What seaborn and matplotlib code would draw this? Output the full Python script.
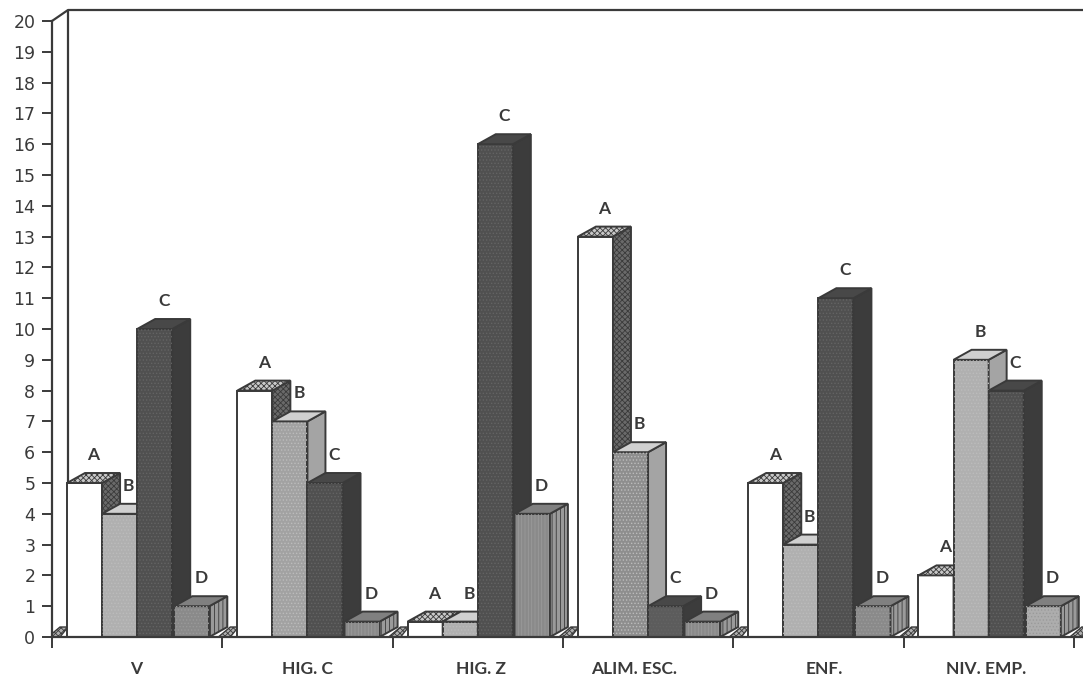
import pandas as pd
import numpy as np
import matplotlib
matplotlib.use('Agg')
import matplotlib.pyplot as plt
from matplotlib.patches import Polygon, Rectangle
import seaborn as sns

# Values
categories = ['V', 'HIG. C', 'HIG. Z', 'ALIM. ESC.', 'ENF.', 'NIV. EMP.']
series_names = ['A', 'B', 'C', 'D']
values_a = [5, 8, 0.5, 13, 5, 2]
values_b = [4, 7, 0.5, 6, 3, 9]
values_c = [10, 5, 16, 1, 11, 8]
values_d = [1, 0.5, 4, 0.5, 1, 1]
y_ticks = list(range(0, 21))

INK = '#3a3a3a'
# front, side, top colour for each series
front_colors = ['#ffffff', '#b0b0b0', '#505050', '#8a8a8a']
side_colors = ['#6a6a6a', '#a4a4a4', '#3c3c3c', '#9a9a9a']
top_colors = ['#c8c8c8', '#d0d0d0', '#484848', '#808080']
side_hatches = ['xxxxxx', None, None, '||||']
top_hatches = ['xxxxxx', None, None, None]
# overlay texture on the front faces: hatch and its colour
front_textures = [None, '.....', '.....', '.....']
texture_colors = [None, '#bcbcbc', '#646464', '#9a9a9a']
# bars printed in another grey than the rest of their series
shade_overrides = {('B', 'ALIM. ESC.'): '#8e8e8e', ('B', 'HIG. C'): '#a2a2a2',
                   ('D', 'NIV. EMP.'): '#adadad', ('C', 'ALIM. ESC.'): '#5c5c5c'}
striped_bars = [('D', 'HIG. C'), ('D', 'HIG. Z'), ('D', 'ALIM. ESC.')]
# the scan's labels are not quite centred under the groups (pixels)
label_shift = [-1, 0, 3, -14, 6, -3]

# depth of the fake 3D look, in pixels
DEPTH_X = 18
DEPTH_Y = 10
PX_PER_CAT = 170.3
PX_PER_UNIT = 30.8
D_GAP = 2  # series D stands a little off the others


def load_data():
    rows = []
    for name, vals in zip(series_names, [values_a, values_b, values_c, values_d]):
        for cat, val in zip(categories, vals):
            rows.append({'category': cat, 'series': name, 'value': val})
    return pd.DataFrame(rows)


def add_depth(ax, bar, idx, cat, dx, dy):
    """Side, top and texture of one bar, worked out from the bar seaborn drew."""
    name = series_names[idx]
    if idx == 3:
        bar.set_x(bar.get_x() + D_GAP / PX_PER_CAT)
    x0, w, h = bar.get_x(), bar.get_width(), bar.get_height()
    x1 = x0 + w
    z = 3 + idx
    bar.set_zorder(z)
    if (name, cat) in shade_overrides:
        bar.set_facecolor(shade_overrides[(name, cat)])
    side = Polygon([(x1, 0), (x1 + dx, dy), (x1 + dx, h + dy), (x1, h)],
                   facecolor=side_colors[idx], edgecolor=INK, linewidth=1.4,
                   hatch=side_hatches[idx], zorder=z)
    top = Polygon([(x0, h), (x0 + dx, h + dy), (x1 + dx, h + dy), (x1, h)],
                  facecolor=top_colors[idx], edgecolor=INK, linewidth=1.4,
                  hatch=top_hatches[idx], zorder=z)
    ax.add_patch(side)
    ax.add_patch(top)
    texture = '|||||' if (name, cat) in striped_bars else front_textures[idx]
    if texture:
        ax.add_patch(Rectangle((x0, 0), w, h, fill=False, linewidth=0, hatch=texture,
                               edgecolor=texture_colors[idx], zorder=z))
    ax.annotate(name, (x0 + (w + dx) / 2, h + dy), xytext=(0, 18),
                textcoords='offset pixels', ha='center', va='center',
                fontsize=12.5, color=INK, zorder=10, family='Lato', fontweight='bold')


def plot_chart(data):
    sns.set_style('white')
    plt.rcParams['hatch.linewidth'] = 0.6
    fig = plt.figure(figsize=(10.83, 6.79), dpi=100)
    ax = fig.add_axes([52 / 1083, 1 - 637 / 679, 1031 / 1083, 616 / 679])

    sns.barplot(data=data, x='category', y='value', hue='series', order=categories,
                hue_order=series_names, palette=front_colors, width=0.824, gap=0,
                edgecolor=INK, linewidth=1.4, saturation=1, legend=False, ax=ax)

    dx = DEPTH_X / PX_PER_CAT
    dy = DEPTH_Y / PX_PER_UNIT
    for idx, container in enumerate(ax.containers):
        for cat, bar in zip(categories, container):
            add_depth(ax, bar, idx, cat, dx, dy)

    ax.set_xlim(-0.5, -0.5 + 1031 / PX_PER_CAT)
    ax.set_ylim(0, 20)
    ax.set_xlabel('')
    ax.set_ylabel('')

    # y axis
    ax.set_yticks(y_ticks)
    ax.tick_params(axis='y', left=True, length=7, width=1.4, color=INK, labelcolor=INK,
                   labelsize=12.5, pad=5)

    # categories sit between the ticks
    edges = np.arange(len(categories) + 1) - 0.5
    ax.set_xticks(np.arange(len(categories)) + np.array(label_shift) / PX_PER_CAT)
    ax.set_xticklabels(categories)
    ax.set_xticks(edges, minor=True)
    ax.tick_params(axis='x', which='major', bottom=False, length=0, labelcolor=INK,
                   labelsize=12.5, pad=17)
    ax.tick_params(axis='x', which='minor', bottom=True, length=8, width=1.4, color=INK)
    for label in ax.get_xticklabels():
        label.set_fontfamily('Lato')
        label.set_fontweight('bold')

    sns.despine(ax=ax, top=True, right=True)
    for side_name in ['left', 'bottom']:
        ax.spines[side_name].set_color(INK)
        ax.spines[side_name].set_linewidth(1.6)
        ax.spines[side_name].set_zorder(9)

    # back wall and top edge
    wall_x = -0.5 + 16 / PX_PER_CAT
    ax.plot([wall_x, wall_x], [dy, 20 + dy], color=INK, lw=1.6, clip_on=False, zorder=1)
    ax.plot([-0.5, wall_x, edges[-1] + 0.2], [20, 20 + 11 / PX_PER_UNIT, 20 + 11 / PX_PER_UNIT],
            color=INK, lw=1.6, clip_on=False, zorder=1)

    # small bits of floor seen around each tick
    for edge in edges:
        floor = Polygon([(edge - 4 / PX_PER_CAT, 0), (edge + 8 / PX_PER_CAT, dy),
                         (edge + 16 / PX_PER_CAT, dy), (edge + 8 / PX_PER_CAT, 0)],
                        facecolor='#b0b0b0', edgecolor=INK, linewidth=1, hatch='xxxxxx',
                        clip_on=True, zorder=2)
        ax.add_patch(floor)

    fig.savefig('out.png', dpi=100, facecolor='white')


def main():
    data = load_data()
    plot_chart(data)


if __name__ == '__main__':
    main()
